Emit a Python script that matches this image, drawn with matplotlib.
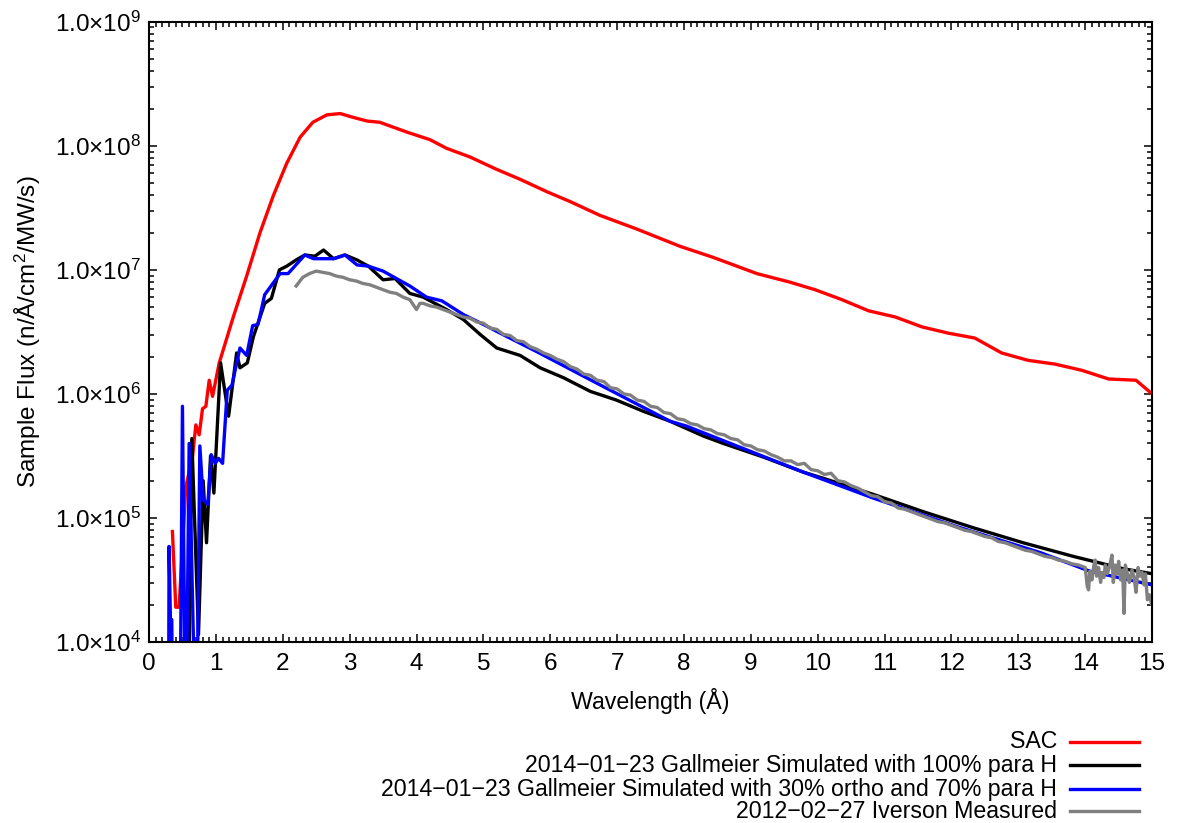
import numpy as np
import matplotlib
matplotlib.use("Agg")
import matplotlib.pyplot as plt
from matplotlib.ticker import MultipleLocator, LogLocator, FuncFormatter, NullFormatter
from matplotlib.lines import Line2D

plt.rcParams["font.family"] = ["Liberation Sans", "DejaVu Sans"]
plt.rcParams["mathtext.default"] = "regular"

# ---- data (log10 of flux) ----
sac_wl = [0.35, 0.40, 0.45, 0.55, 0.65, 0.70, 0.75, 0.80, 0.85, 0.90, 0.95, 1.05,
          1.26, 1.46, 1.66, 1.86, 2.06, 2.26, 2.45, 2.66, 2.86, 3.05, 3.26, 3.45,
          3.86, 4.20, 4.45, 4.80, 5.20, 5.55, 5.95, 6.30, 6.74, 7.29, 7.94, 8.44,
          9.09, 9.59, 9.96, 10.36, 10.76, 11.16, 11.56, 11.95, 12.35, 12.75, 13.15,
          13.55, 13.95, 14.35, 14.76, 15.0]
sac_log = [4.89, 4.28, 4.28, 5.25, 5.49, 5.75, 5.67, 5.88, 5.90, 6.11, 5.98, 6.25,
           6.62, 6.95, 7.30, 7.60, 7.86, 8.07, 8.19, 8.25, 8.26, 8.23, 8.20, 8.19,
           8.11, 8.05, 7.98, 7.91, 7.81, 7.73, 7.63, 7.55, 7.44, 7.33, 7.19, 7.10,
           6.97, 6.90, 6.84, 6.76, 6.67, 6.62, 6.54, 6.49, 6.45, 6.33, 6.27,
           6.24, 6.19, 6.12, 6.11, 6.00]

para_wl = [0.58, 0.64, 0.74, 0.81, 0.86, 0.92, 0.97, 1.07, 1.19, 1.31, 1.36, 1.47,
           1.56, 1.61, 1.73, 1.83, 1.95, 2.06, 2.20, 2.33, 2.48, 2.61, 2.76, 2.93,
           3.11, 3.28, 3.50, 3.68, 3.90, 4.10, 4.45, 4.70, 4.95, 5.20, 5.55, 5.85,
           6.20, 6.60, 6.99, 7.39, 7.79, 8.29, 8.59, 9.19, 9.78, 10.08, 10.83,
           11.58, 12.33, 13.07, 13.82, 14.57, 15.0]
para_log = [3.0, 5.64, 4.06, 5.30, 4.80, 5.50, 5.20, 6.25, 5.82, 6.33, 6.21, 6.25,
            6.46, 6.54, 6.73, 6.77, 7.00, 7.03, 7.08, 7.12, 7.11, 7.16, 7.09, 7.12,
            7.08, 7.03, 6.92, 6.93, 6.81, 6.78, 6.68, 6.60, 6.48, 6.37, 6.31, 6.21,
            6.13, 6.02, 5.95, 5.86, 5.78, 5.66, 5.60, 5.49, 5.37, 5.32, 5.19,
            5.05, 4.92, 4.80, 4.69, 4.59, 4.55]

ortho_wl = [0.29, 0.30, 0.32, 0.34, 0.36, 0.46, 0.50, 0.55, 0.60, 0.66, 0.71, 0.76,
            0.81, 0.88, 0.93, 0.99, 1.04, 1.10, 1.17, 1.24, 1.36, 1.46, 1.55, 1.63,
            1.73, 1.96, 2.08, 2.33, 2.46, 2.61, 2.76, 2.93, 3.11, 3.28, 3.50, 3.90,
            4.15, 4.38, 4.70, 5.00, 5.25, 5.80, 6.79, 7.79, 8.04, 8.79, 9.78, 10.83,
            12.08, 13.33, 14.07, 15.0]
ortho_log = [3.0, 4.77, 4.18, 4.18, 3.0, 3.0, 5.90, 3.0, 5.60, 4.12, 3.0, 5.58,
             5.15, 5.11, 5.51, 5.44, 5.48, 5.44, 6.03, 6.07, 6.37, 6.31, 6.55, 6.56,
             6.80, 6.97, 6.97, 7.12, 7.09, 7.09, 7.09, 7.12, 7.04, 7.03, 6.99, 6.87,
             6.78, 6.75, 6.64, 6.56, 6.49, 6.34, 6.06, 5.78, 5.74, 5.58, 5.37, 5.16,
             4.93, 4.72, 4.57, 4.46]

meas_wl = [2.2, 2.3, 2.4, 2.5, 2.6, 2.7, 2.8, 2.9, 3.0, 3.1, 3.2, 3.3, 3.4, 3.5, 3.6,
           3.7, 3.8, 3.9, 3.95, 4.0, 4.05, 4.1, 4.2, 4.3, 4.4, 4.5, 4.6, 4.7, 4.8, 4.9,
           5.0, 5.1, 5.2, 5.3, 5.4, 5.5, 5.6, 5.7, 5.8, 5.9, 6.0, 6.1, 6.2, 6.3, 6.4,
           6.5, 6.6, 6.7, 6.8, 6.9, 7.0, 7.1, 7.2, 7.3, 7.4, 7.5, 7.6, 7.7, 7.8, 7.9,
           8.0, 8.1, 8.2, 8.3, 8.4, 8.5, 8.6, 8.7, 8.8, 8.9, 9.0, 9.1, 9.2, 9.3, 9.4,
           9.5, 9.6, 9.7, 9.8, 9.9, 10.0, 10.1, 10.2, 10.3, 10.4, 10.5, 10.6, 10.7,
           10.8, 10.9, 11.0, 11.1, 11.2, 11.3, 11.4, 11.5, 11.6, 11.7, 11.8, 11.9,
           12.0, 12.1, 12.2, 12.3, 12.4, 12.5, 12.6, 12.7, 12.8, 12.9, 13.0, 13.1,
           13.2, 13.3, 13.4, 13.5, 13.6, 13.7, 13.8, 13.9, 13.95, 14.0, 14.03, 14.05,
           14.07, 14.1, 14.13, 14.15, 14.17, 14.2, 14.23, 14.25, 14.28, 14.3, 14.33,
           14.36, 14.4, 14.42, 14.45, 14.48, 14.5, 14.53, 14.56, 14.58, 14.6, 14.63,
           14.66, 14.7, 14.73, 14.76, 14.79, 14.82, 14.85, 14.88, 14.9, 14.93, 14.96,
           14.99]
meas_log = [6.87, 6.94, 6.97, 6.99, 6.98, 6.97, 6.95, 6.94, 6.92, 6.91, 6.89, 6.88,
            6.86, 6.84, 6.82, 6.81, 6.78, 6.76, 6.72, 6.68, 6.73, 6.73, 6.71, 6.70,
            6.68, 6.66, 6.64, 6.62, 6.61, 6.58, 6.57, 6.53, 6.52, 6.48, 6.47, 6.43,
            6.42, 6.38, 6.36, 6.33, 6.31, 6.28, 6.26, 6.22, 6.20, 6.16, 6.15, 6.11,
            6.10, 6.05, 6.04, 6.00, 5.99, 5.95, 5.94, 5.90, 5.89, 5.85, 5.84, 5.80,
            5.79, 5.76, 5.75, 5.72, 5.71, 5.68, 5.67, 5.64, 5.63, 5.59, 5.58, 5.55,
            5.54, 5.51, 5.49, 5.46, 5.46, 5.43, 5.44, 5.39, 5.38, 5.35, 5.36, 5.30,
            5.29, 5.26, 5.24, 5.21, 5.18, 5.17, 5.13, 5.12, 5.08, 5.07, 5.05, 5.03,
            5.01, 4.99, 4.97, 4.96, 4.94, 4.92, 4.90, 4.89, 4.87, 4.85, 4.84, 4.81,
            4.80, 4.78, 4.76, 4.74, 4.73, 4.71, 4.69, 4.68, 4.66, 4.65, 4.63, 4.62,
            4.61, 4.60, 4.45, 4.42, 4.57, 4.50, 4.62, 4.66, 4.53, 4.60, 4.48, 4.56,
            4.52, 4.62, 4.55, 4.60, 4.70, 4.48, 4.62, 4.55, 4.65, 4.50, 4.58, 4.23,
            4.62, 4.55, 4.48, 4.58, 4.52, 4.40, 4.60, 4.53, 4.56, 4.46, 4.55, 4.34,
            4.38, 4.31]

labels = ["SAC",
          "2014\u221201\u221223 Gallmeier Simulated with 100% para H",
          "2014\u221201\u221223 Gallmeier Simulated with 30% ortho and 70% para H",
          "2012\u221202\u221227 Iverson Measured"]
colors = ["#ff0000", "#000000", "#0000ff", "#808080"]

series = [(sac_wl, sac_log), (para_wl, para_log), (ortho_wl, ortho_log), (meas_wl, meas_log)]

fig = plt.figure(figsize=(11.78, 8.23), dpi=100)
ax = fig.add_axes([0.1265, 0.22, 0.8515, 0.7535])

for (wl, lg), c in zip(series, colors):
    ax.plot(wl, 10 ** np.array(lg), color=c, lw=2.4)

ax.set_yscale("log")
ax.set_xlim(0, 15)
ax.set_ylim(1e4, 1e9)
ax.xaxis.set_major_locator(MultipleLocator(1))
ax.xaxis.set_minor_locator(MultipleLocator(0.1))
ax.yaxis.set_major_locator(LogLocator(base=10, numticks=10))
ax.yaxis.set_minor_locator(LogLocator(base=10, subs=np.arange(2, 10), numticks=20))
ax.yaxis.set_minor_formatter(NullFormatter())
ax.yaxis.set_major_formatter(FuncFormatter(lambda v, p: "1.0\u00d710$^{%d}$" % int(round(np.log10(v)))))

ax.tick_params(which="both", direction="in", top=True, right=True, width=1.1, labelsize=17.5)
ax.tick_params(which="major", length=6)
ax.tick_params(which="minor", length=3.5)
ax.tick_params(axis="x", pad=8)
ax.tick_params(axis="y", pad=6)
for s in ax.spines.values():
    s.set_linewidth(1.5)

ax.set_xlabel("Wavelength (\u00c5)", fontsize=16.7, labelpad=9)
ax.set_ylabel("Sample Flux (n/\u00c5/cm$^2$/MW/s)", fontsize=17.5, labelpad=8)

# gnuplot-style key below the plot: right-aligned text, line sample on the right
key_y = [0.099, 0.070, 0.041, 0.014]
for lab, c, y in zip(labels, colors, key_y):
    fig.text(0.8975, y, lab, ha="right", va="center", fontsize=16.7)
    fig.add_artist(Line2D([0.908, 0.967], [y, y], color=c, lw=2.4, transform=fig.transFigure))

fig.savefig("out.png", dpi=100)
